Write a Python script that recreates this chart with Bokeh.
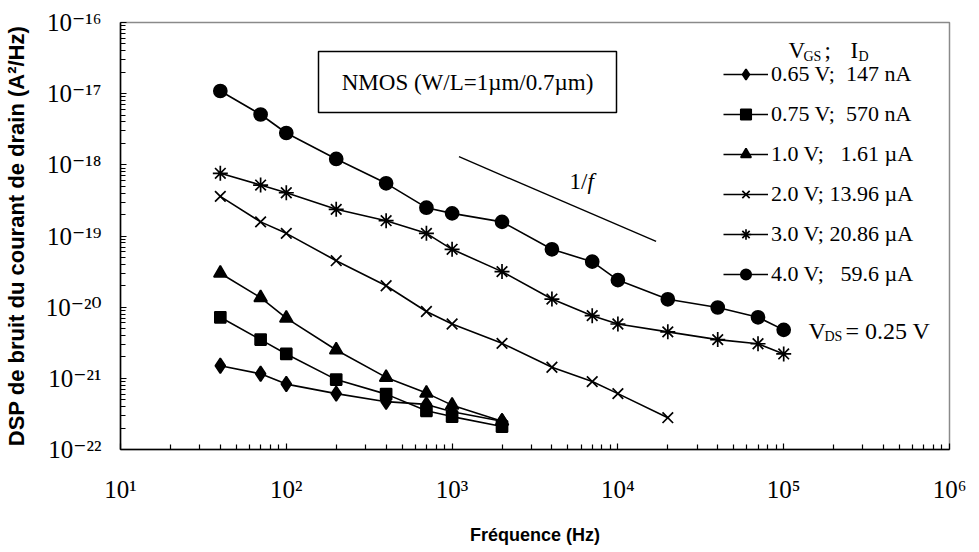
from bokeh.plotting import figure
from bokeh.models import (Label, Legend, LegendItem, FixedTicker, Range1d,
                          BoxAnnotation, CustomJSTickFormatter)
from bokeh.embed import file_html
from bokeh.resources import INLINE

# ---- measured drain-current noise PSD (A^2/Hz) versus frequency (Hz) ----
freq_low = [40, 70, 100, 200, 400, 700, 1000, 2000]
freq_mid = [40, 70, 100, 200, 400, 700, 1000, 2000, 4000, 7000, 10000, 20000]
freq_high = [40, 70, 100, 200, 400, 700, 1000, 2000, 4000, 7000, 10000,
             20000, 40000, 70000, 100000]

psd_065 = [1.5e-21, 1.16e-21, 8.3e-22, 6.1e-22, 4.7e-22, 4.3e-22, 3.4e-22, 2.5e-22]
psd_075 = [7.2e-21, 3.5e-21, 2.2e-21, 9.6e-22, 6.0e-22, 3.5e-22, 2.9e-22, 2.1e-22]
psd_10 = [3.0e-20, 1.36e-20, 7.0e-21, 2.5e-21, 1.03e-21, 6.2e-22, 4.2e-22, 2.5e-22]
psd_20 = [3.6e-19, 1.58e-19, 1.09e-19, 4.5e-20, 2.0e-20, 8.7e-21, 5.8e-21,
          3.1e-21, 1.43e-21, 9.0e-22, 6.1e-22, 2.8e-22]
psd_30 = [7.6e-19, 5.2e-19, 4.05e-19, 2.37e-19, 1.64e-19, 1.09e-19, 6.5e-20,
          3.16e-20, 1.3e-20, 7.6e-21, 5.8e-21, 4.5e-21, 3.5e-21, 3.06e-21, 2.2e-21]
psd_40 = [1.09e-17, 5.1e-18, 2.8e-18, 1.21e-18, 5.5e-19, 2.5e-19, 2.08e-19,
          1.58e-19, 6.5e-20, 4.36e-20, 2.4e-20, 1.29e-20, 9.9e-21, 7.2e-21, 4.8e-21]

series_labels = ["0.65 V;  147 nA", "0.75 V;  570 nA", "1.0 V;   1.61 µA",
                 "2.0 V; 13.96 µA", "3.0 V; 20.86 µA", "4.0 V;   59.6 µA"]

# 1/f slope guide (two end points)
one_f_freq = [1100, 17000]
one_f_psd = [1.3e-18, 8.4e-20]

x_exponents = [1, 2, 3, 4, 5, 6]
y_exponents = [-22, -21, -20, -19, -18, -17, -16]

SERIF = "Liberation Serif"
SERIF_STACK = "'Liberation Serif', 'DejaVu Serif', serif"
SANS = "Liberation Sans"

# frame geometry in pixels
W, H = 979, 552
FL, FR, FT, FB = 120, 949, 22, 449
XDEC = (FR - FL) / (x_exponents[-1] - x_exponents[0])
YDEC = (FB - FT) / (y_exponents[-1] - y_exponents[0])


def dx(px):
    """frame pixel column -> frequency value"""
    return 10 ** (x_exponents[0] + (px - FL) / XDEC)


def dy(py):
    """frame pixel row -> PSD value"""
    return 10 ** (y_exponents[-1] - (py - FT) / YDEC)


p = figure(width=W, height=H, x_axis_type="log", y_axis_type="log",
           x_range=Range1d(10 ** x_exponents[0], 10 ** x_exponents[-1]),
           y_range=Range1d(10 ** y_exponents[0], 10 ** y_exponents[-1]),
           output_backend="svg", toolbar_location=None,
           min_border_left=FL, min_border_right=W - FR,
           min_border_top=FT, min_border_bottom=H - FB)
p.background_fill_color = "white"
p.border_fill_color = "white"
p.outline_line_color = "#8a8a8a"
p.outline_line_width = 1.5
p.xgrid.visible = False
p.ygrid.visible = False

# powers of ten written as 10 with a superscript exponent
power_labels = CustomJSTickFormatter(code="""
    const sup = {'-': '\u207b', '0': '\u2070', '1': '\u00b9', '2': '\u00b2',
                 '3': '\u00b3', '4': '\u2074', '5': '\u2075', '6': '\u2076',
                 '7': '\u2077', '8': '\u2078', '9': '\u2079'};
    const e = Math.round(Math.log10(tick));
    return '10' + String(e).split('').map(c => sup[c]).join('');
""")

p.xaxis.ticker = FixedTicker(
    ticks=[10.0 ** e for e in x_exponents],
    minor_ticks=[m * 10.0 ** e for e in x_exponents[:-1] for m in range(2, 10)])
p.yaxis.ticker = FixedTicker(
    ticks=[10.0 ** e for e in y_exponents],
    minor_ticks=[m * 10.0 ** e for e in y_exponents[:-1] for m in range(2, 10)])
for ax in (p.xaxis[0], p.yaxis[0]):
    ax.formatter = power_labels
    ax.major_label_text_font = SERIF_STACK
    ax.major_label_text_font_size = "25px"
    ax.major_label_text_color = "black"
    ax.axis_line_color = "black"
    ax.axis_line_width = 1.5
    ax.major_tick_in = 6
    ax.major_tick_out = 0
    ax.minor_tick_in = 5
    ax.minor_tick_out = 0
    ax.major_tick_line_color = "black"
    ax.minor_tick_line_color = "black"
    ax.major_tick_line_width = 1.2
    ax.minor_tick_line_width = 1.2
    ax.axis_label_text_font = SANS
    ax.axis_label_text_font_style = "bold"
    ax.axis_label_text_color = "black"

p.xaxis.major_label_standoff = 26
p.yaxis.major_label_standoff = 19
p.xaxis.axis_label = "Fréquence (Hz)"
p.xaxis.axis_label_text_font_size = "18px"
p.xaxis.axis_label_standoff = 19
p.yaxis.axis_label = "DSP de bruit du courant de drain (A²/Hz)"
p.yaxis.axis_label_text_font_size = "22px"
p.yaxis.axis_label_standoff = 14

# ---- data series ----
series = [
    (freq_low, psd_065, "diamond", 15),
    (freq_low, psd_075, "square", 11),
    (freq_low, psd_10, "triangle", 13),
    (freq_mid, psd_20, "x", 15),
    (freq_high, psd_30, "asterisk", 15),
    (freq_high, psd_40, "circle", 13),
]
items = []
for (f, s, marker, size), lbl in zip(series, series_labels):
    lr = p.line(f, s, line_color="black", line_width=1.6)
    mr = p.scatter(f, s, marker=marker, size=size, fill_color="black",
                   line_color="black", line_width=1.7)
    items.append(LegendItem(label=lbl, renderers=[lr, mr]))

legend = Legend(items=items, location=(603, 162), orientation="vertical",
                glyph_width=45, glyph_height=26, label_height=26,
                label_standoff=3, spacing=14, padding=0, margin=0,
                border_line_color=None, background_fill_alpha=0,
                label_text_font=SERIF, label_text_font_size="22px",
                label_text_color="black")
p.add_layout(legend)

# 1/f guide line
p.line(one_f_freq, one_f_psd, line_color="black", line_width=1.4)


def txt(x, y, text, size, align="left", style="normal", font=SERIF):
    p.add_layout(Label(x=dx(x), y=dy(y), text=text, text_font=font,
                       text_font_size=size, text_font_style=style,
                       text_align=align, text_baseline="middle",
                       text_color="black"))


txt(587, 181, "1/", "23px", align="right")
txt(587, 181, "f", "23px", style="italic")

# device caption box
p.add_layout(BoxAnnotation(left=dx(318), right=dx(616), top=dy(51), bottom=dy(112),
                           fill_color="white", fill_alpha=1.0,
                           line_color="black", line_alpha=1.0, line_width=1.5,
                           level="underlay"))
txt(467, 82, "NMOS (W/L=1µm/0.7µm)", "23px", align="center")

# legend header  V_GS ;  I_D
txt(788, 50, "V", "23px")
txt(803, 56, "GS", "14px")
txt(824, 50, ";", "23px")
txt(850, 50, "I", "23px")
txt(858, 56, "D", "14px")

# bias annotation  V_DS = 0.25 V
txt(808, 330, "V", "24px")
txt(824, 336, "DS", "14px")
txt(845, 330, "= 0.25 V", "24px")

open("out.html", "w").write(file_html(p, INLINE))
